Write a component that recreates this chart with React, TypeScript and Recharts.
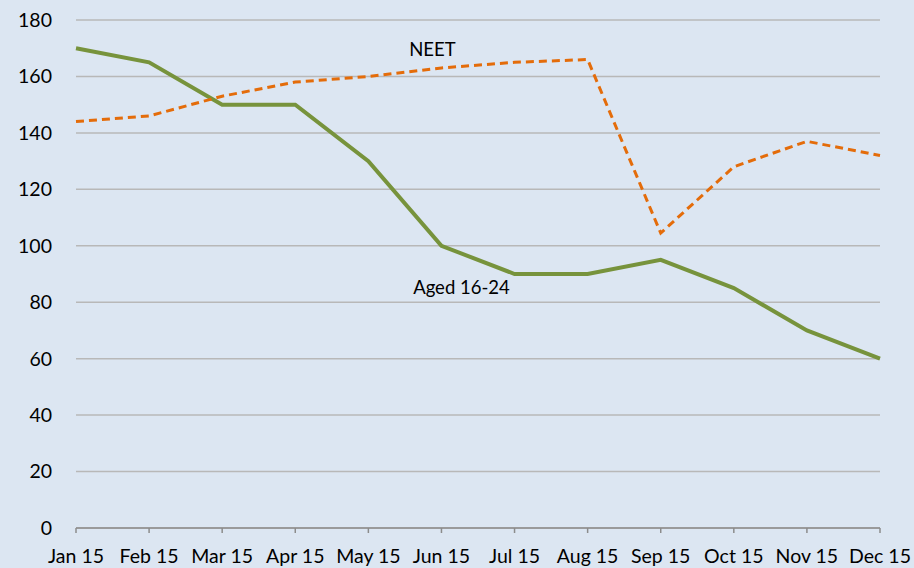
import { LineChart, Line, XAxis, YAxis, CartesianGrid, ReferenceDot } from "recharts";

const months = ["Jan 15", "Feb 15", "Mar 15", "Apr 15", "May 15", "Jun 15", "Jul 15", "Aug 15", "Sep 15", "Oct 15", "Nov 15", "Dec 15"];
const aged1624 = [170, 165, 150, 150, 130, 100, 90, 90, 95, 85, 70, 60];
const neet = [144, 146, 153, 158, 160, 163, 165, 166, 104.5, 128, 137, 132];
const yTicks = [0, 20, 40, 60, 80, 100, 120, 140, 160, 180];

const data = months.map((m, i) => ({ month: m, aged: aged1624[i], neet: neet[i] }));

const font = "Lato, 'Open Sans', sans-serif";
const tickStyle = { fontSize: 19.5, fontFamily: font, fill: "#000" };

export default function App() {
  return (
    <div style={{ position: "absolute", left: 0, top: 0, width: 914, height: 568, background: "#dce6f2" }}>
      <LineChart width={914} height={568} data={data} margin={{ top: 20, right: 34, left: 0, bottom: 0 }}>
        <CartesianGrid vertical={false} stroke="#b8b8b8" strokeWidth={1.5} />
        <XAxis
          dataKey="month"
          tick={tickStyle}
          axisLine={{ stroke: "#8c8c8c", strokeWidth: 1.5 }}
          tickLine={{ stroke: "#8c8c8c", strokeWidth: 1.5 }}
          tickSize={5}
          tickMargin={16}
          height={40}
          interval={0}
        />
        <YAxis
          domain={[0, 180]}
          ticks={yTicks}
          tick={tickStyle}
          axisLine={false}
          tickLine={false}
          tickMargin={18}
          width={76}
        />
        <Line
          dataKey="aged"
          stroke="#77933c"
          strokeWidth={4}
          dot={false}
          isAnimationActive={false}
        />
        <Line
          dataKey="neet"
          stroke="#e46c0a"
          strokeWidth={3}
          strokeDasharray="8 5"
          dot={false}
          isAnimationActive={false}
        />
        <ReferenceDot
          x="Jun 15"
          y={169.4}
          r={0}
          label={{ value: "NEET", fontSize: 18.5, fontFamily: font, fill: "#000", dx: -9 }}
        />
        <ReferenceDot
          x="Jun 15"
          y={85.4}
          r={0}
          label={{ value: "Aged 16-24", fontSize: 18.5, fontFamily: font, fill: "#000", dx: 20 }}
        />
      </LineChart>
    </div>
  );
}
